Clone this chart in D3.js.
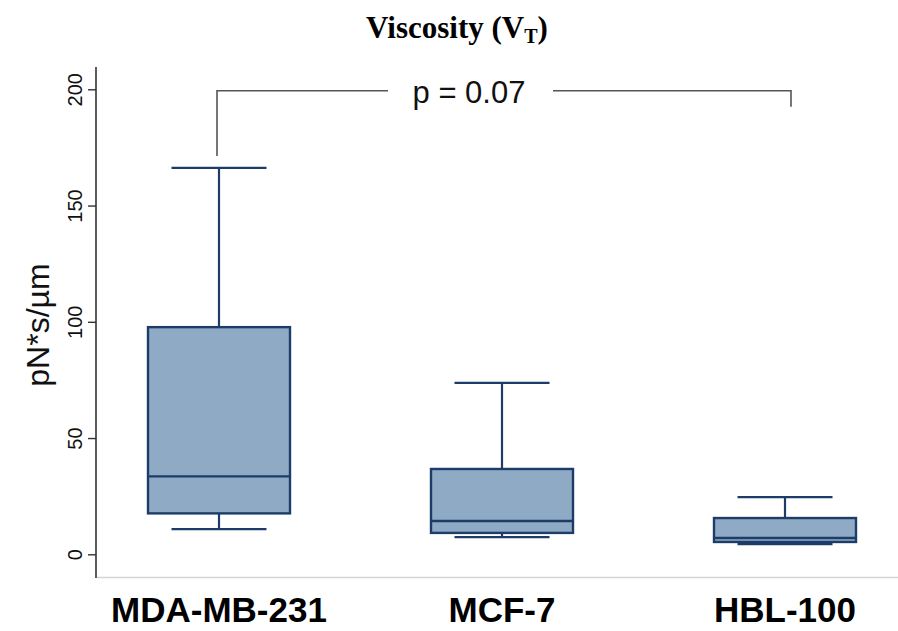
<!DOCTYPE html>
<html>
<head>
<meta charset="utf-8">
<script src="https://cdn.jsdelivr.net/npm/d3@7/dist/d3.min.js"></script>
<style>
  html, body { margin: 0; padding: 0; background: #fff; }
  svg { display: block; }
</style>
</head>
<body>
<svg id="chart" width="898" height="631"></svg>
<script>
// Cell lines and their box-plot summaries (pN*s/µm)
const cellLines = ["MDA-MB-231", "MCF-7", "HBL-100"];
const whiskerLow = [10.8, 7.4, 4.4];
const quartile1 = [17.6, 9.2, 5.3];
const medians = [33.5, 14.3, 7.0];
const quartile3 = [97.7, 36.7, 15.6];
const whiskerHigh = [166.2, 73.7, 24.6];
const yTicks = [0, 50, 100, 150, 200];
const pLabel = "p = 0.07";
const bracketLevel = 200;

const boxes = cellLines.map((name, i) => ({
  name,
  lo: whiskerLow[i], q1: quartile1[i], med: medians[i],
  q3: quartile3[i], hi: whiskerHigh[i]
}));

const svg = d3.select("#chart");

const y = d3.scaleLinear().domain([0, 200]).range([554.3, 89.3]);
const x = d3.scalePoint().domain(cellLines).range([219, 785]);

const boxW = 142, capW = 95;
const stroke = "#1d3c6a", fill = "#8faac5";

// Title
const title = svg.append("text")
  .attr("x", 457).attr("y", 38)
  .attr("text-anchor", "middle")
  .attr("font-family", "'Liberation Serif', 'Times New Roman', serif")
  .attr("font-weight", "bold")
  .attr("font-size", 31)
  .attr("fill", "#000");
title.append("tspan").text("Viscosity (V");
title.append("tspan").attr("font-size", 20).attr("dy", 5).text("T");
title.append("tspan").attr("dy", -5).text(")");

// X baseline
svg.append("line")
  .attr("x1", 97).attr("x2", 898)
  .attr("y1", 577.5).attr("y2", 577.5)
  .attr("stroke", "#d4d4d4").attr("stroke-width", 1.5);

// Y axis
const yAxis = svg.append("g")
  .attr("transform", "translate(96,0)")
  .call(d3.axisLeft(y).tickValues(yTicks).tickSize(8).tickSizeOuter(0));
yAxis.select(".domain").remove();
yAxis.append("line")
  .attr("x1", 0).attr("x2", 0).attr("y1", 67).attr("y2", 578)
  .attr("stroke", "#333").attr("stroke-width", 1.6);
yAxis.selectAll(".tick line").attr("stroke", "#333").attr("stroke-width", 1.4);
yAxis.selectAll(".tick text")
  .attr("font-family", "'Liberation Sans', Arial, sans-serif")
  .attr("font-size", 20)
  .attr("fill", "#111")
  .attr("transform", "rotate(-90)")
  .attr("x", 0).attr("y", -14)
  .attr("dy", 0)
  .attr("text-anchor", "middle");

// Y axis title
svg.append("text")
  .attr("transform", "translate(49,325) rotate(-90)")
  .attr("text-anchor", "middle")
  .attr("font-family", "'Liberation Sans', Arial, sans-serif")
  .attr("font-size", 32)
  .attr("fill", "#111")
  .text("pN*s/µm");

// Boxes
const g = svg.append("g");
boxes.forEach(b => {
  const cx = x(b.name);
  const bg = g.append("g");
  // upper whisker
  bg.append("line").attr("x1", cx).attr("x2", cx).attr("y1", y(b.q3)).attr("y2", y(b.hi))
    .attr("stroke", stroke).attr("stroke-width", 2.2);
  bg.append("line").attr("x1", cx - capW / 2).attr("x2", cx + capW / 2).attr("y1", y(b.hi)).attr("y2", y(b.hi))
    .attr("stroke", stroke).attr("stroke-width", 2.2);
  // lower whisker
  bg.append("line").attr("x1", cx).attr("x2", cx).attr("y1", y(b.q1)).attr("y2", y(b.lo))
    .attr("stroke", stroke).attr("stroke-width", 2.2);
  bg.append("line").attr("x1", cx - capW / 2).attr("x2", cx + capW / 2).attr("y1", y(b.lo)).attr("y2", y(b.lo))
    .attr("stroke", stroke).attr("stroke-width", 2.2);
  // box
  bg.append("rect")
    .attr("x", cx - boxW / 2).attr("y", y(b.q3))
    .attr("width", boxW).attr("height", y(b.q1) - y(b.q3))
    .attr("fill", fill).attr("stroke", stroke).attr("stroke-width", 2.4);
  // median
  bg.append("line").attr("x1", cx - boxW / 2).attr("x2", cx + boxW / 2).attr("y1", y(b.med)).attr("y2", y(b.med))
    .attr("stroke", stroke).attr("stroke-width", 2.4);
});

// Significance bracket between first and last groups
const bx1 = x(cellLines[0]) - 2, bx2 = x(cellLines[2]) + 6;
const by = y(bracketLevel) + 1.5;
const br = svg.append("g").attr("stroke", "#555").attr("stroke-width", 1.6).attr("fill", "none");
br.append("path").attr("d", `M${bx1},${y(whiskerHigh[0]) - 12}V${by}H388`);
br.append("path").attr("d", `M553,${by}H${bx2}V${by + 16}`);
svg.append("text")
  .attr("x", 469).attr("y", by + 12)
  .attr("text-anchor", "middle")
  .attr("font-family", "'Liberation Sans', Arial, sans-serif")
  .attr("font-size", 31)
  .attr("fill", "#111")
  .text(pLabel);

// Category labels
svg.append("g").selectAll("text")
  .data(cellLines)
  .join("text")
  .attr("x", d => x(d)).attr("y", 622)
  .attr("text-anchor", "middle")
  .attr("font-family", "'Liberation Sans', Arial, sans-serif")
  .attr("font-weight", "bold")
  .attr("font-size", 35)
  .attr("fill", "#000")
  .text(d => d);
</script>
</body>
</html>
